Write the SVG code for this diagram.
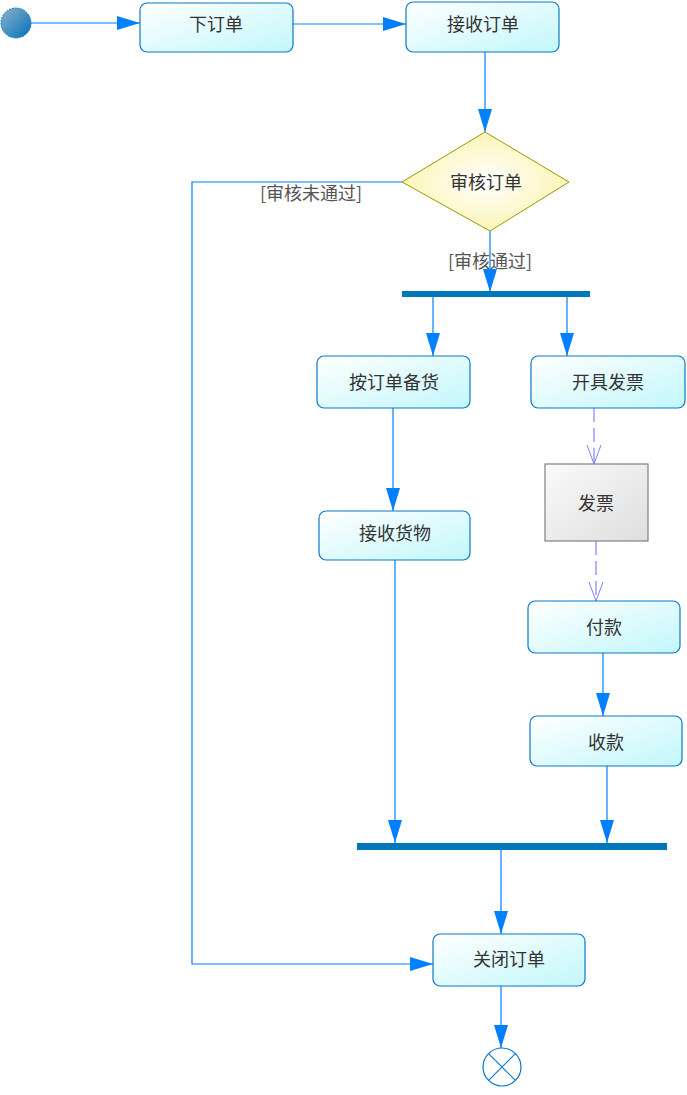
<svg xmlns="http://www.w3.org/2000/svg" width="687" height="1095" viewBox="0 0 687 1095">
<defs>
<linearGradient id="gAct" x1="0" y1="0" x2="1" y2="1"><stop offset="0" stop-color="#ffffff"/><stop offset="1" stop-color="#c2f7fb"/></linearGradient>
<radialGradient id="gDecR" cx="0.5" cy="0.5" r="0.6"><stop offset="0" stop-color="#ffffff"/><stop offset="1" stop-color="#fbf3a8"/></radialGradient>
<linearGradient id="gObj" x1="0" y1="0" x2="1" y2="1"><stop offset="0" stop-color="#fafafa"/><stop offset="1" stop-color="#dedede"/></linearGradient>
<linearGradient id="gStart" x1="0" y1="0" x2="1" y2="1"><stop offset="0" stop-color="#8fb3cc"/><stop offset="1" stop-color="#0070b8"/></linearGradient>
<marker id="arr" markerUnits="userSpaceOnUse" markerWidth="24" markerHeight="14" refX="23" refY="7" orient="auto"><path d="M0,0 L23,7 L0,14 Z" fill="#0080ff"/></marker>
<marker id="open" markerUnits="userSpaceOnUse" markerWidth="20" markerHeight="16" refX="19" refY="8" orient="auto"><path d="M0,1 L19,8 L0,15" fill="none" stroke="#8080ff" stroke-width="1"/></marker>
<style>
.act{fill:url(#gAct);stroke:#0a78c8;stroke-width:1.2}
.t{font-family:"Noto Sans CJK SC","Noto Sans CJK JP",sans-serif;font-size:18px;fill:#333;text-anchor:middle;dominant-baseline:central}
.g{font-family:"Noto Sans CJK SC","Noto Sans CJK JP",sans-serif;font-size:18px;fill:#555;text-anchor:middle;dominant-baseline:central}
.c{fill:none;stroke:#0080ff;stroke-width:1.2}
.d{fill:none;stroke:#8080ff;stroke-width:1.2;stroke-dasharray:14,6}
.bar{fill:#0077bb}
</style>
</defs>
<g id="connectors">
<line class="c" x1="31" y1="23" x2="140" y2="23" marker-end="url(#arr)"/>
<line class="c" x1="293" y1="24" x2="406" y2="24" marker-end="url(#arr)"/>
<line class="c" x1="485" y1="52" x2="485" y2="132" marker-end="url(#arr)"/>
<polyline class="c" points="402,182 192,182 192,964 433,964" marker-end="url(#arr)"/>
<line class="c" x1="490" y1="231" x2="490" y2="292" marker-end="url(#arr)"/>
<line class="c" x1="433" y1="297" x2="433" y2="356" marker-end="url(#arr)"/>
<line class="c" x1="567" y1="297" x2="567" y2="356" marker-end="url(#arr)"/>
<line class="c" x1="393" y1="408" x2="393" y2="511" marker-end="url(#arr)"/>
<line class="d" x1="594" y1="408" x2="594" y2="464" marker-end="url(#open)"/>
<line class="d" x1="596" y1="541" x2="596" y2="601" marker-end="url(#open)"/>
<line class="c" x1="603" y1="653" x2="603" y2="716" marker-end="url(#arr)"/>
<line class="c" x1="395" y1="560" x2="395" y2="843" marker-end="url(#arr)"/>
<line class="c" x1="607" y1="766" x2="607" y2="843" marker-end="url(#arr)"/>
<line class="c" x1="501" y1="850" x2="501" y2="934" marker-end="url(#arr)"/>
<line class="c" x1="501" y1="986" x2="501" y2="1048" marker-end="url(#arr)"/>
<text class="g" x="311" y="192">[审核未通过]</text>
<text class="g" x="490" y="260">[审核通过]</text>
</g>
<g id="start"><circle cx="16" cy="23" r="15" fill="url(#gStart)" stroke="#0a78c8" stroke-dasharray="2,1"/></g>
<g id="n1"><rect class="act" x="140" y="3" width="153" height="49" rx="7"/><text class="t" x="216" y="23">下订单</text></g>
<g id="n2"><rect class="act" x="406" y="2" width="153" height="50" rx="7"/><text class="t" x="483" y="23">接收订单</text></g>
<g id="decision"><polygon points="485,132 569,182 490,231 402,182" fill="url(#gDecR)" stroke="#999900" stroke-width="1"/><text class="t" x="486" y="181">审核订单</text></g>
<g id="fork"><rect class="bar" x="402" y="291" width="188" height="6"/></g>
<g id="n3"><rect class="act" x="317" y="356" width="153" height="52" rx="7"/><text class="t" x="394" y="381">按订单备货</text></g>
<g id="n4"><rect class="act" x="531" y="356" width="154" height="52" rx="7"/><text class="t" x="608" y="381">开具发票</text></g>
<g id="n5"><rect class="act" x="319" y="511" width="151" height="49" rx="7"/><text class="t" x="395" y="532">接收货物</text></g>
<g id="obj"><rect x="545" y="464" width="103" height="77" fill="url(#gObj)" stroke="#808080" stroke-width="1.2"/><text class="t" x="596" y="502">发票</text></g>
<g id="n6"><rect class="act" x="528" y="601" width="152" height="52" rx="7"/><text class="t" x="604" y="626">付款</text></g>
<g id="n7"><rect class="act" x="530" y="716" width="152" height="50" rx="7"/><text class="t" x="606" y="741">收款</text></g>
<g id="join"><rect class="bar" x="357" y="843" width="310" height="7"/></g>
<g id="n8"><rect class="act" x="433" y="934" width="152" height="52" rx="7"/><text class="t" x="509" y="958">关闭订单</text></g>
<g id="end"><circle cx="502" cy="1067" r="19" fill="#fff" stroke="#0a78c8" stroke-width="1.2"/><path d="M488.6,1053.6 L515.4,1080.4 M515.4,1053.6 L488.6,1080.4" stroke="#0a78c8" stroke-width="1.2"/></g>
</svg>
